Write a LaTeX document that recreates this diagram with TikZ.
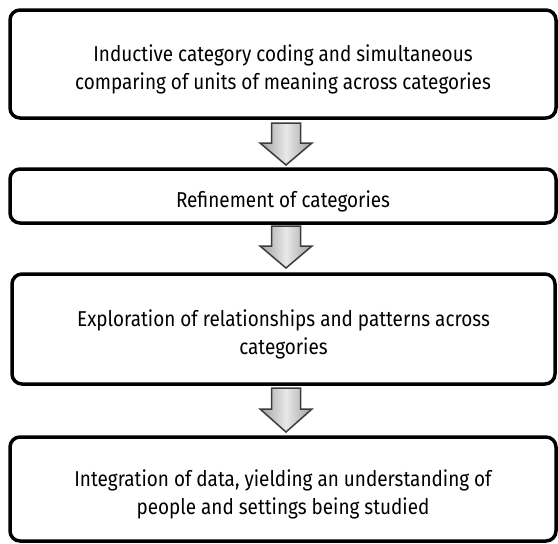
\documentclass[tikz,border=0pt]{standalone}
\usepackage{fontspec}
\setmainfont[FakeStretch=0.88]{Fira Sans}
\usepackage{tikz}
\usetikzlibrary{positioning}
\definecolor{arrowline}{RGB}{60, 60, 60}
\definecolor{arrowdark}{RGB}{160, 160, 160}
\definecolor{arrowlight}{RGB}{232, 232, 232}

\begin{document}
\begin{tikzpicture}[x=1pt, y=-1pt,
  stepbox/.style={draw=black, line width=3.5pt, rounded corners=10pt, inner sep=0pt},
  steptext/.style={align=center, font=\fontsize{21.5}{28}\selectfont, inner sep=0pt, yshift=-5pt},
  downarrow/.style={draw=arrowline, line width=1.5pt, line join=miter,
    left color=arrowdark, right color=arrowdark, middle color=arrowlight}]
\useasboundingbox (0,0) rectangle (558,544);
% boxes
\node (b1) [stepbox, minimum width=546pt, minimum height=108pt] at (283, 64) {};
\node (b2) [stepbox, minimum width=546pt, minimum height=54pt] at (283, 196) {};
\node (b3) [stepbox, minimum width=543pt, minimum height=110pt] at (283.5, 329) {};
\node (b4) [stepbox, minimum width=546pt, minimum height=104pt] at (283, 489) {};
% texts
\node (t1) [steptext] at (b1.center)
  {Inductive category coding and simultaneous\\comparing of units of meaning across categories};
\node (t2) [steptext] at (b2.center) {Refinement of categories};
\node (t3) [steptext] at (b3.center)
  {Exploration of relationships and patterns across\\categories};
\node (t4) [steptext] at (b4.center)
  {Integration of data, yielding an understanding of\\people and settings being studied};
% arrows
\coordinate (a1) at (286, 123);
\coordinate (a2) at (286, 226);
\coordinate (a3) at (286, 388);
\draw [downarrow] (a1) ++(-14.5,0) -- ++(0,20) -- ++(-11.5,0) -- ++(26,22)
  -- ++(26,-22) -- ++(-11.5,0) -- ++(0,-20) -- cycle;
\draw [downarrow] (a2) ++(-14.5,0) -- ++(0,20) -- ++(-11.5,0) -- ++(26,22)
  -- ++(26,-22) -- ++(-11.5,0) -- ++(0,-20) -- cycle;
\draw [downarrow] (a3) ++(-14.5,0) -- ++(0,21) -- ++(-11.5,0) -- ++(26,23)
  -- ++(26,-23) -- ++(-11.5,0) -- ++(0,-21) -- cycle;
\end{tikzpicture}
\end{document}
